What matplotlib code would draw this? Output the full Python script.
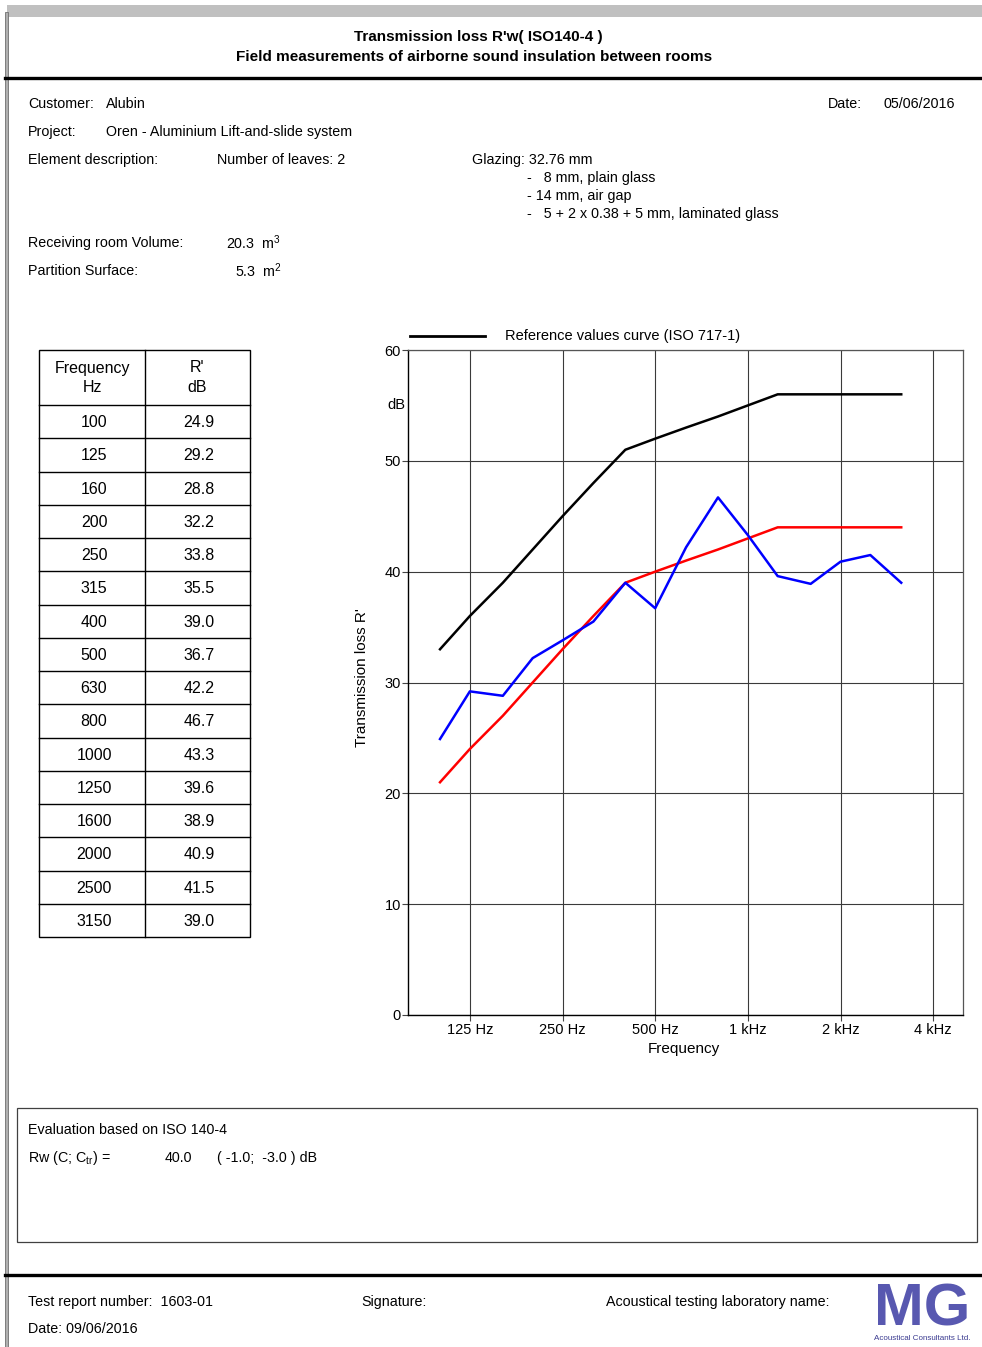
import numpy as np
import matplotlib
matplotlib.use("Agg")
import matplotlib.pyplot as plt
from matplotlib.patches import Rectangle
from matplotlib.lines import Line2D

plt.rcParams['font.family'] = ['Liberation Sans', 'DejaVu Sans']
plt.rcParams['mathtext.fontset'] = 'custom'
plt.rcParams['mathtext.rm'] = 'Liberation Sans'
plt.rcParams['mathtext.it'] = 'Liberation Sans:italic'

# ---------------- data ----------------
freqs = [100, 125, 160, 200, 250, 315, 400, 500, 630, 800, 1000, 1250, 1600, 2000, 2500, 3150]
measured = [24.9, 29.2, 28.8, 32.2, 33.8, 35.5, 39.0, 36.7, 42.2, 46.7, 43.3, 39.6, 38.9, 40.9, 41.5, 39.0]
reference = [33, 36, 39, 42, 45, 48, 51, 52, 53, 54, 55, 56, 56, 56, 56, 56]
shifted_ref = [21, 24, 27, 30, 33, 36, 39, 40, 41, 42, 43, 44, 44, 44, 44, 44]
xtick_freqs = [125, 250, 500, 1000, 2000, 4000]
xtick_labels = ['125 Hz', '250 Hz', '500 Hz', '1 kHz', '2 kHz', '4 kHz']
yticks = [0, 10, 20, 30, 40, 50, 60]

W, H = 982, 1347
fig = plt.figure(figsize=(W / 100, H / 100), dpi=100)


def fx(x):
    return x / W


def fy(y):
    return 1 - y / H


def txt(x, y, s, size=10.3, ha='left', va='center', **kw):
    fig.text(fx(x), fy(y), s, fontsize=size, ha=ha, va=va, **kw)


def hline(x0, x1, y, lw=1.0, color='black'):
    fig.add_artist(Line2D([fx(x0), fx(x1)], [fy(y), fy(y)], lw=lw, color=color,
                          transform=fig.transFigure))


def vline(x, y0, y1, lw=1.0, color='black'):
    fig.add_artist(Line2D([fx(x), fx(x)], [fy(y0), fy(y1)], lw=lw, color=color,
                          transform=fig.transFigure))


def rect(x0, y0, x1, y1, fc='none', ec='black', lw=1.0):
    fig.add_artist(Rectangle((fx(x0), fy(y1)), fx(x1) - fx(x0), fy(y0) - fy(y1),
                             facecolor=fc, edgecolor=ec, lw=lw, transform=fig.transFigure))


# ---------------- page frame ----------------
rect(7, 5, 982, 17, fc='#c0c0c0', ec='none')
rect(5, 12, 8, 1347, fc='#b0b0b0', ec='#707070', lw=0.6)
hline(5, 982, 78, lw=2.4)
hline(5, 982, 1275, lw=2.4)

# title
txt(478, 37, "Transmission loss R'w( ISO140-4 )", size=11, ha='center', weight='bold')
txt(474, 57, "Field measurements of airborne sound insulation between rooms", size=11,
    ha='center', weight='bold')

# header info
txt(28, 104, "Customer:")
txt(106, 104, "Alubin")
txt(828, 104, "Date:")
txt(883, 104, "05/06/2016")
txt(28, 132, "Project:")
txt(106, 132, "Oren - Aluminium Lift-and-slide system")
txt(28, 160, "Element description:")
txt(217, 160, "Number of leaves: 2")
txt(472, 160, "Glazing: 32.76 mm")
txt(527, 178, "-   8 mm, plain glass")
txt(527, 196, "- 14 mm, air gap")
txt(527, 214, "-   5 + 2 x 0.38 + 5 mm, laminated glass")
txt(28, 243, "Receiving room Volume:")
txt(226, 243, "20.3  m$^3$")
txt(28, 271, "Partition Surface:")
txt(235, 271, "5.3  m$^2$")

# ---------------- table ----------------
tx0, tx1, txm = 39, 250, 145
ty0, tyh = 350, 405
row_h = (937 - 405) / len(freqs)
rect(tx0, ty0, tx1, tyh + row_h * len(freqs), lw=1.0)
vline(txm, ty0, tyh + row_h * len(freqs), lw=1.0)
hline(tx0, tx1, tyh, lw=1.0)
txt(92, 368, "Frequency", size=11.5, ha='center')
txt(92, 387, "Hz", size=11.5, ha='center')
txt(197, 368, "R'", size=11.5, ha='center')
txt(197, 387, "dB", size=11.5, ha='center')
for i, (f, v) in enumerate(zip(freqs, measured)):
    yc = tyh + row_h * (i + 0.5)
    if i > 0:
        hline(tx0, tx1, tyh + row_h * i, lw=1.0)
    txt(94, yc + 1, f"{f}", size=11.5, ha='center')
    txt(199, yc + 1, f"{v:.1f}", size=11.5, ha='center')

# ---------------- chart ----------------
ax_l, ax_r, ax_t, ax_b = 408, 963, 350, 1015
ax = fig.add_axes([fx(ax_l), fy(ax_b), fx(ax_r) - fx(ax_l), fy(ax_t) - fy(ax_b)])
ax.set_xscale('log')
ax.set_xlim(78.7, 5000)
ax.set_ylim(0, 60)
ax.plot(freqs, reference, color='black', lw=1.8, zorder=3)
ax.plot(freqs, shifted_ref, color='#ff0000', lw=1.8, zorder=3)
ax.plot(freqs, measured, color='#0000ff', lw=1.8, zorder=4)
ax.set_xticks(xtick_freqs)
ax.set_xticklabels(xtick_labels, fontsize=10.5)
ax.xaxis.set_minor_locator(matplotlib.ticker.NullLocator())
ax.set_yticks(yticks)
ax.set_yticklabels([str(v) for v in yticks], fontsize=10.5)
ax.tick_params(axis='x', direction='out', length=4, width=0.8, pad=1.5, color='#444444')
ax.tick_params(axis='y', direction='out', length=4, width=0.8, pad=1, color='#444444')
ax.grid(True, color='#3a3a3a', lw=0.8)
for s in ['left', 'bottom']:
    ax.spines[s].set_color('black')
    ax.spines[s].set_linewidth(1.0)
for s in ['top', 'right']:
    ax.spines[s].set_color('#555555')
    ax.spines[s].set_linewidth(0.9)
ax.set_axisbelow(True)

txt(396, 405, "dB", size=10.5, ha='center')
txt(362, 678, "Transmission loss R'", size=11, ha='center', rotation=90)
txt(684, 1049, "Frequency", size=11, ha='center')

# legend
hline(410, 485, 336, lw=2.0)
txt(505, 336, "Reference values curve (ISO 717-1)", size=10.5)

# ---------------- evaluation box ----------------
rect(17, 1108, 977, 1242, ec='#404040', lw=0.9)
txt(28, 1130, "Evaluation based on ISO 140-4")
txt(28, 1158, "Rw (C; C$_{\\mathregular{tr}}$) =")
txt(165, 1158, "40.0")
txt(217, 1158, "( -1.0;  -3.0 ) dB")

# ---------------- footer ----------------
txt(28, 1302, "Test report number:  1603-01")
txt(28, 1329, "Date: 09/06/2016")
txt(361, 1302, "Signature:")
txt(606, 1302, "Acoustical testing laboratory name:")

# logo
txt(922, 1310, "MG", size=43, ha='center', weight='bold', color='#5858b0')
txt(922, 1339, "Acoustical Consultants Ltd.", size=5.8, ha='center', color='#3a3a90')

fig.savefig('out.png', dpi=100)
